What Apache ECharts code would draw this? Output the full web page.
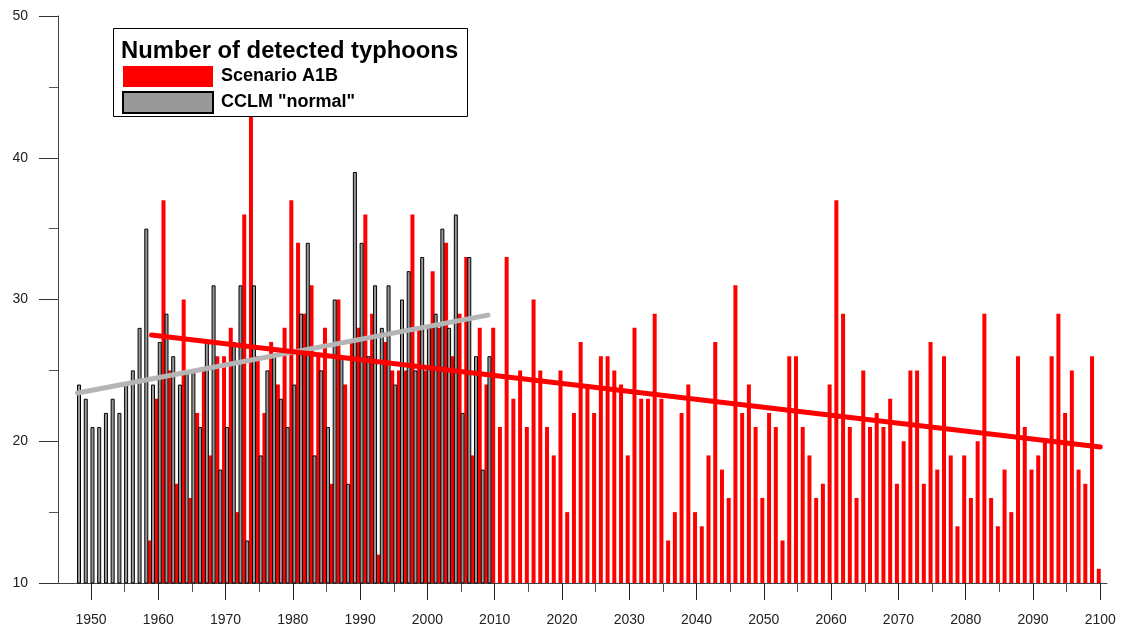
<!DOCTYPE html>
<html>
<head>
<meta charset="utf-8">
<title>Number of detected typhoons</title>
<script src="https://cdn.jsdelivr.net/npm/echarts@6/dist/echarts.min.js"></script>
<style>
  html, body { margin: 0; padding: 0; background: #fff; }
  #chart { width: 1124px; height: 630px; }
</style>
</head>
<body>
<div id="chart"></div>
<script>
// yearly typhoon counts
var greyStart = 1948
var greyCounts = [
  24, 23, 21, 21, 22, 23, 22, 24, 25, 28,
  35, 24, 27, 29, 26, 24, 25, 25, 21, 27,
  31, 18, 21, 27, 31, 13, 31, 19, 25, 26,
  23, 21, 24, 29, 34, 19, 25, 21, 30, 26,
  17, 39, 34, 26, 31, 28, 31, 24, 30, 32,
  25, 33, 28, 29, 35, 28, 36, 22, 33, 26,
  18, 26
]
var redStart = 1959
var redCounts = [
  13, 23, 37, 25, 17, 30, 16, 22, 25, 19,
  26, 26, 28, 15, 36, 43, 26, 22, 27, 24,
  28, 37, 34, 29, 31, 26, 28, 17, 30, 24,
  27, 28, 36, 29, 12, 27, 25, 25, 25, 36,
  28, 25, 32, 28, 34, 26, 29, 33, 19, 28,
  24, 28, 21, 33, 23, 25, 21, 30, 25, 21,
  19, 25, 15, 22, 27, 24, 22, 26, 26, 25,
  24, 19, 28, 23, 23, 29, 23, 13, 15, 22,
  24, 15, 14, 19, 27, 18, 16, 31, 22, 24,
  21, 16, 22, 21, 13, 26, 26, 21, 19, 16,
  17, 24, 37, 29, 21, 16, 25, 21, 22, 21,
  23, 17, 20, 25, 25, 17, 27, 18, 26, 19,
  14, 19, 16, 20, 29, 16, 14, 18, 15, 26,
  21, 18, 19, 20, 26, 29, 22, 25, 18, 17,
  26, 11
]
// trend lines, end points as drawn
var greyTrend = [[1948, 23.4], [2009, 28.9]]
var redTrend = [[1959, 27.5], [2100, 19.6]]
// x axis ticks
var majorYears = [1950, 1960, 1970, 1980, 1990, 2000, 2010, 2020, 2030, 2040, 2050, 2060, 2070, 2080, 2090, 2100]
var minorYears = [1955, 1965, 1975, 1985, 1995, 2005, 2015, 2025, 2035, 2045, 2055, 2065, 2075, 2085, 2095]

function toPairs(start, values) {
  var out = []
  for (var i = 0; i < values.length; i++) {
    out.push([start + i, values[i]])
  }
  return out
}

var font = '"Liberation Sans", Arial, sans-serif'
var axisColor = '#444'
var chart = echarts.init(document.getElementById('chart'))

var option = {
  backgroundColor: '#fff',
  animation: false,
  textStyle: { fontFamily: font },
  title: {
    text: 'Number of detected typhoons',
    left: 121,
    top: 39,
    padding: 0,
    textStyle: { fontFamily: font, fontSize: 23.8, fontWeight: 'bold', color: '#000' }
  },
  legend: {
    orient: 'vertical',
    left: 122,
    top: 66,
    padding: 0,
    itemWidth: 90,
    itemHeight: 21,
    itemGap: 4,
    icon: 'rect',
    selectedMode: false,
    data: ['Scenario A1B', 'CCLM "normal"'],
    textStyle: { fontFamily: font, fontSize: 18, fontWeight: 'bold', color: '#000', padding: [0, 0, 0, 3] }
  },
  graphic: [
    {
      type: 'rect',
      z: 3,
      shape: { x: 113.5, y: 28.5, width: 354, height: 88 },
      style: { fill: '#fff', stroke: '#000', lineWidth: 1 }
    }
  ],
  grid: { left: 58, top: 16, width: 1049, height: 567 },
  xAxis: [
    {
      type: 'value',
      min: 1945.1,
      max: 2101,
      position: 'bottom',
      axisLine: { show: true, lineStyle: { color: axisColor, width: 1 } },
      axisTick: { show: true, customValues: majorYears, length: 17, lineStyle: { color: '#222' } },
      axisLabel: {
        customValues: majorYears,
        margin: 30,
        fontSize: 14,
        color: '#222',
        fontFamily: font,
        formatter: function (v) { return String(v) }
      },
      splitLine: { show: false }
    },
    {
      type: 'value',
      min: 1945.1,
      max: 2101,
      position: 'bottom',
      axisLine: { show: false },
      axisTick: { show: true, customValues: minorYears, length: 9, lineStyle: { color: '#555' } },
      axisLabel: { show: false },
      splitLine: { show: false }
    }
  ],
  yAxis: {
    type: 'value',
    min: 10,
    max: 50,
    interval: 10,
    axisLine: { show: true, lineStyle: { color: axisColor, width: 1 } },
    axisTick: { show: true, length: 19, lineStyle: { color: '#333' } },
    minorTick: { show: true, splitNumber: 2, length: 9, lineStyle: { color: '#555' } },
    axisLabel: { margin: 30, fontSize: 14, color: '#222', fontFamily: font },
    splitLine: { show: false },
    minorSplitLine: { show: false }
  },
  series: [
    {
      name: 'Scenario A1B',
      type: 'bar',
      xAxisIndex: 0,
      barWidth: 4,
      barGap: '-25%',
      itemStyle: { color: '#ff0000', borderWidth: 0 },
      data: toPairs(redStart, redCounts)
    },
    {
      name: 'CCLM "normal"',
      type: 'bar',
      xAxisIndex: 0,
      barWidth: 4,
      barGap: '-25%',
      itemStyle: { color: '#999999', borderColor: '#000', borderWidth: 1 },
      data: toPairs(greyStart, greyCounts)
    },
    {
      name: 'grey trend',
      type: 'line',
      xAxisIndex: 0,
      symbol: 'none',
      silent: true,
      lineStyle: { color: '#b5b5b5', width: 5, cap: 'round' },
      data: greyTrend
    },
    {
      name: 'red trend',
      type: 'line',
      xAxisIndex: 0,
      symbol: 'none',
      silent: true,
      lineStyle: { color: '#ff0000', width: 5, cap: 'round' },
      data: redTrend
    }
  ]
}
chart.setOption(option)
</script>
</body>
</html>
